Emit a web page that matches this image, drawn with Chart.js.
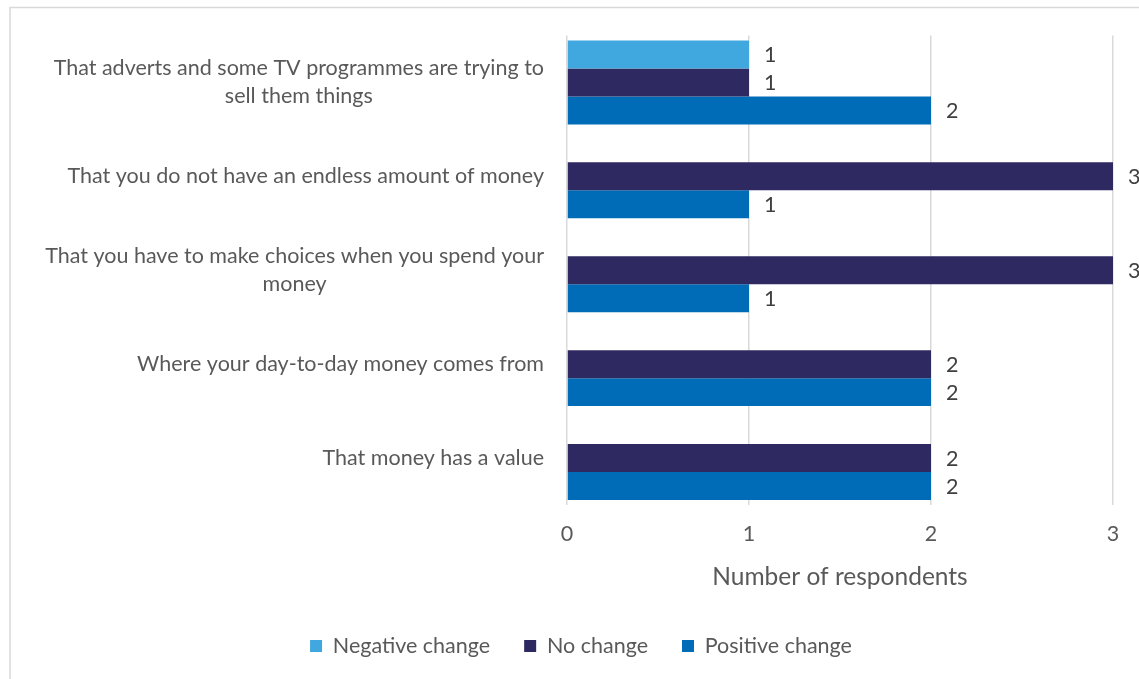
<!DOCTYPE html>
<html>
<head>
<meta charset="utf-8">
<script src="https://cdn.jsdelivr.net/npm/chart.js@4/dist/chart.umd.min.js"></script>
<style>
  html, body { margin: 0; padding: 0; background: #fff; }
  #wrap { width: 1139px; height: 679px; position: relative; }
</style>
</head>
<body>
<div id="wrap"><canvas id="chart"></canvas></div>
<script>
// categories, top to bottom (wrapped lines kept as arrays)
const categories = [
  ['That adverts and some TV programmes are trying to', 'sell them things'],
  'That you do not have an endless amount of money',
  ['That you have to make choices when you spend your', 'money'],
  'Where your day-to-day money comes from',
  'That money has a value'
];
const negativeChange = [1, null, null, null, null];
const noChange = [1, 3, 3, 2, 2];
const positiveChange = [2, 1, 1, 2, 2];
const xTicks = [0, 1, 2, 3];

const FONT = 'Lato, "Liberation Sans", sans-serif';
const SIZE = 21.5;
const GREY = '#595959';

// frame around the chart
const framePlugin = {
  id: 'frame',
  beforeDraw(chart) {
    const { ctx } = chart;
    ctx.save();
    ctx.fillStyle = '#fff';
    ctx.fillRect(0, 0, chart.width, chart.height);
    ctx.strokeStyle = '#d9d9d9';
    ctx.lineWidth = 1.5;
    ctx.strokeRect(10, 7.5, chart.width + 20, chart.height + 20);
    ctx.restore();
  }
};

// category labels: each block right-aligned, lines centred inside it
const categoryLabelPlugin = {
  id: 'categoryLabels',
  afterDraw(chart) {
    const { ctx } = chart;
    const y = chart.scales.y;
    ctx.save();
    ctx.font = SIZE + 'px ' + FONT;
    ctx.fillStyle = GREY;
    ctx.textAlign = 'center';
    ctx.textBaseline = 'middle';
    categories.forEach((label, i) => {
      const lines = Array.isArray(label) ? label : [label];
      const w = Math.max(...lines.map(l => ctx.measureText(l).width));
      const cx = y.right - 23 - w / 2;
      const cy = y.getPixelForTick(i);
      lines.forEach((l, k) => {
        ctx.fillText(l, cx, cy + (k - (lines.length - 1) / 2) * 28);
      });
    });
    ctx.restore();
  }
};

// value labels just past the end of each bar
const valueLabelPlugin = {
  id: 'valueLabels',
  afterDatasetsDraw(chart) {
    const { ctx } = chart;
    ctx.save();
    ctx.font = SIZE + 'px ' + FONT;
    ctx.fillStyle = '#404040';
    ctx.textAlign = 'left';
    ctx.textBaseline = 'middle';
    chart.data.datasets.forEach((ds, di) => {
      chart.getDatasetMeta(di).data.forEach((bar, i) => {
        const v = ds.data[i];
        if (v === null || v === undefined) return;
        ctx.fillText(String(v), bar.x + 15, bar.y + 1);
      });
    });
    ctx.restore();
  }
};

const ctx = document.getElementById('chart').getContext('2d');
new Chart(ctx, {
  type: 'bar',
  data: {
    labels: categories,
    datasets: [
      { label: 'Negative change', data: negativeChange, backgroundColor: '#41a8df' },
      { label: 'No change', data: noChange, backgroundColor: '#2e2960' },
      { label: 'Positive change', data: positiveChange, backgroundColor: '#006cb8' }
    ]
  },
  options: {
    indexAxis: 'y',
    responsive: true,
    maintainAspectRatio: false,
    animation: false,
    layout: { padding: { left: 49, right: 26, top: 35.5, bottom: 12.25 } },
    datasets: {
      bar: { barPercentage: 1, categoryPercentage: 0.894, borderWidth: 0 }
    },
    scales: {
      x: {
        min: 0,
        max: 3,
        afterBuildTicks(scale) { scale.ticks = xTicks.map(v => ({ value: v })); },
        afterFit(scale) { scale.height = 96.25; },
        border: { display: false },
        grid: { color: '#d9d9d9', lineWidth: 1.5, drawTicks: false },
        ticks: { padding: 16.5, color: GREY, font: { family: FONT, size: SIZE } },
        title: {
          display: true,
          text: 'Number of respondents',
          color: GREY,
          font: { family: FONT, size: 24.5 },
          padding: { top: 0, bottom: 9.5 }
        }
      },
      y: {
        afterFit(scale) { scale.width = 518; },
        border: { display: false },
        grid: { display: false },
        ticks: { display: false }
      }
    },
    plugins: {
      legend: {
        position: 'bottom',
        labels: {
          boxWidth: 12,
          boxHeight: 12,
          padding: 34,
          color: GREY,
          font: { family: FONT, size: SIZE }
        }
      },
      tooltip: { enabled: false }
    }
  },
  plugins: [framePlugin, categoryLabelPlugin, valueLabelPlugin]
});
</script>
</body>
</html>
